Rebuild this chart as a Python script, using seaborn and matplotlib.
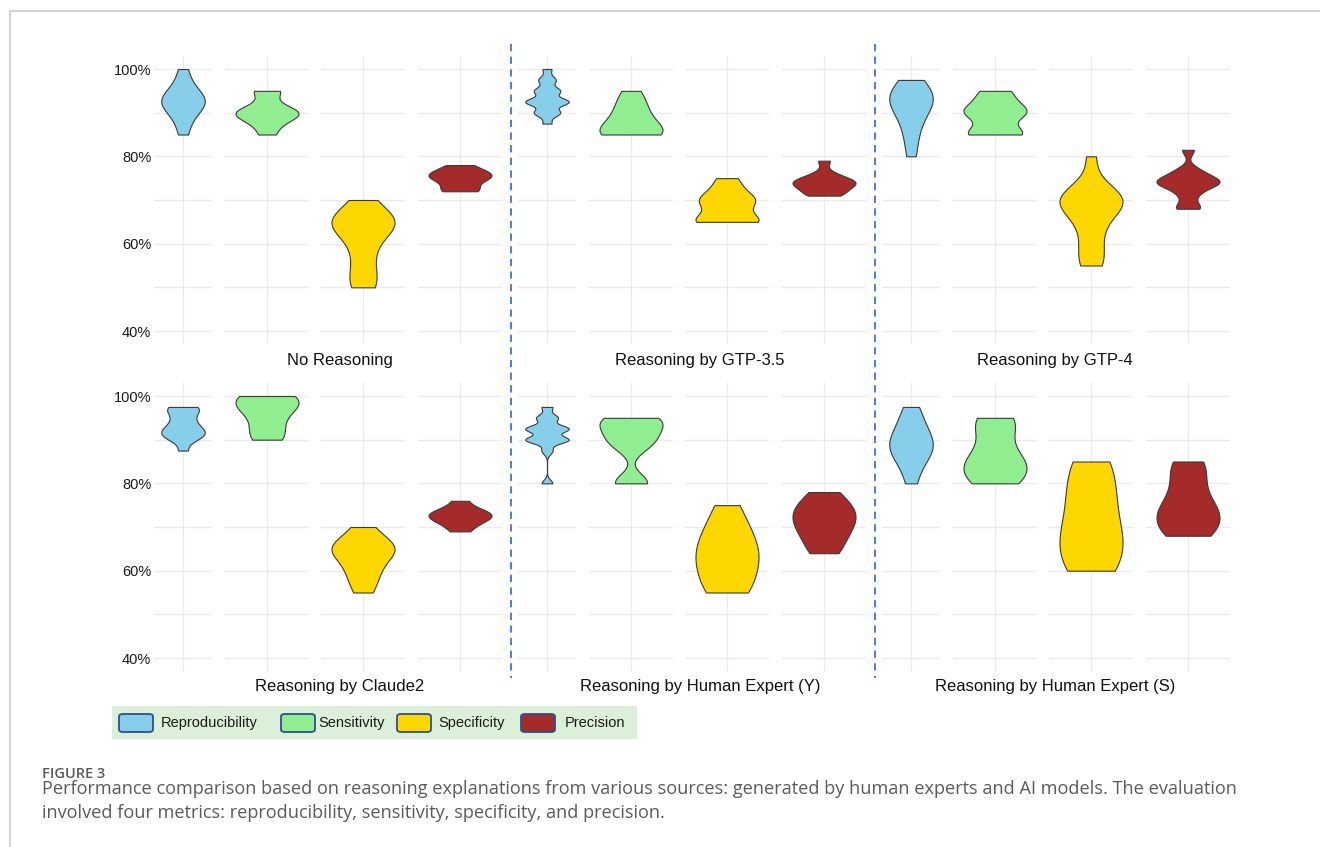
import numpy as np
import pandas as pd
import seaborn as sns
import matplotlib.pyplot as plt
from matplotlib.patches import FancyBboxPatch, Rectangle
from matplotlib.lines import Line2D

sources = ["No Reasoning", "Reasoning by GTP-3.5", "Reasoning by GTP-4",
           "Reasoning by Claude2", "Reasoning by Human Expert (Y)",
           "Reasoning by Human Expert (S)"]
metrics = ["Reproducibility", "Sensitivity", "Specificity", "Precision"]
colors = ["#87CEEB", "#90EE90", "#FFD700", "#A52A2A"]

# scores in %, one list per metric (Reproducibility, Sensitivity, Specificity, Precision)
no_reasoning = [
    [85, 88, 90, 91, 92, 92.5, 93, 93, 94, 95, 97, 100],
    [85, 87.5, 89, 90, 90, 90, 91, 95, 95],
    [50, 51, 54, 57, 60, 62, 63.5, 64.5, 65, 65.5, 66, 68, 70],
    [72, 72, 73, 74.5, 75, 75.5, 76, 76, 77, 78],
]
gtp35 = [
    [87.5, 90, 90, 90, 92.5, 92.5, 92.5, 92.5, 92.5, 95, 95, 95, 97.5, 97.5, 100],
    [85, 85, 85, 85, 86, 87.5, 88, 90, 91, 93, 95],
    [65, 65, 65, 65, 67, 69, 70, 70, 71, 73, 75],
    [71, 71.5, 72, 73, 73.5, 74, 74, 74.5, 75, 76, 79],
]
gtp4 = [
    [80, 84, 87, 89, 91, 92, 93, 93, 94, 95, 96, 97.5],
    [85, 85, 85, 85, 86.5, 89, 90, 90, 90, 91, 92, 93, 95, 95],
    [55, 56, 59, 62, 65, 67, 68.5, 69.5, 70, 70, 70.5, 71.5, 73, 80],
    [68, 68.5, 71, 72.5, 73.5, 74, 74, 74.5, 75, 76, 77, 81.5],
]
claude2 = [
    [87.5, 90, 90.5, 91, 91.5, 92, 92.5, 93, 94, 95, 96, 97, 97.5, 97.5],
    [90, 91, 93, 96, 97.5, 98.5, 99, 100, 100],
    [55, 58, 60, 62, 64, 65, 65, 66, 67, 70],
    [69, 70.5, 71.5, 72, 72.5, 73, 73.5, 74, 76],
]
human_y = [
    [80, 87.5, 90, 90, 90, 90, 92.5, 92.5, 92.5, 92.5, 95, 95, 97.5],
    [80, 80, 80.5, 88, 89, 90, 91, 92, 93, 94, 95, 95, 95],
    [55, 55, 55.5, 57, 59, 61, 62, 63, 64, 65, 66, 67, 69, 71, 73, 75],
    [64, 65, 67, 69, 70, 71, 72, 73, 74, 75, 76, 78],
]
human_s = [
    [80, 84, 86, 87.5, 88, 89, 90, 91, 93, 95, 97.5],
    [80, 80, 81, 82, 83, 84, 85, 85, 86, 88, 91, 93, 94.5, 95, 95],
    [60, 60, 60.5, 62, 64, 65, 66, 67, 68, 70, 72, 74, 76, 78, 80, 82, 84, 85, 85],
    [68, 68, 68.5, 70, 71, 72, 72.5, 73, 74, 75, 76, 78, 80, 82, 84, 85, 85],
]
all_scores = [no_reasoning, gtp35, gtp4, claude2, human_y, human_s]

# kernel bandwidth multiplier per violin
bw = [
    [1.0, 0.8, 0.75, 0.9],
    [0.45, 1.0, 0.8, 0.8],
    [1.0, 0.8, 0.8, 0.55],
    [0.65, 1.0, 0.9, 0.9],
    [0.33, 0.6, 1.2, 1.1],
    [1.0, 1.0, 1.2, 1.0],
]

rows = []
for src, scores in zip(sources, all_scores):
    for m, vals in zip(metrics, scores):
        for v in vals:
            rows.append({"source": src, "metric": m, "score": v})
df = pd.DataFrame(rows)

W, H = 1320, 847
fig = plt.figure(figsize=(13.2, 8.47), dpi=100)
plt.rcParams["font.family"] = ["Liberation Sans", "DejaVu Sans"]


def fx(x):
    return x / W


def fy(y):
    return 1 - y / H


sub_off = [0, 71, 167, 264]
sub_w = [58, 84, 84, 84]
row_top = [55.9, 382.9]
row_h = 288.2
title_x = [340, 700, 1055]
title_y = [360, 686]

for i, src in enumerate(sources):
    r, c = divmod(i, 3)
    left0 = 154 + 364 * c
    for k, m in enumerate(metrics):
        ax = fig.add_axes([fx(left0 + sub_off[k]), fy(row_top[r] + row_h),
                           sub_w[k] / W, row_h / H])
        sub = df[(df.source == src) & (df.metric == m)]
        sns.violinplot(data=sub, x="metric", y="score", color=colors[k],
                       cut=0, inner=None, density_norm="width", width=0.9,
                       bw_adjust=bw[i][k], linewidth=0.8, linecolor="#3a3a3a",
                       saturation=1, ax=ax)
        ax.set_xlim(-0.6, 0.6)
        ax.set_ylim(37, 103)
        ax.set_yticks(range(40, 101, 10))
        if c == 0 and k == 0:
            ax.set_yticklabels(["40%", "", "60%", "", "80%", "", "100%"],
                               fontsize=10.5, color="#1a1a1a")
        else:
            ax.set_yticklabels([])
        ax.set_xticks([0])
        ax.set_xticklabels([])
        ax.tick_params(length=0, pad=2)
        ax.grid(True, color="#ebebeb", lw=1)
        ax.set_axisbelow(True)
        ax.set_xlabel("")
        ax.set_ylabel("")
        for s in ax.spines.values():
            s.set_visible(False)
    fig.text(fx(title_x[c]), fy(title_y[r]), src, ha="center", va="center",
             fontsize=12, color="#111111")

# dashed separators between columns
for x in [511, 875]:
    fig.add_artist(Line2D([fx(x), fx(x)], [fy(44), fy(678)], color="#3b73d9",
                          lw=1.3, ls=(0, (4, 3))))

# frame lines
fig.add_artist(Line2D([fx(10), 1], [fy(11), fy(11)], color="#d4d4d4", lw=1.5))
fig.add_artist(Line2D([fx(10), fx(10)], [fy(11), 0], color="#d4d4d4", lw=1.5))

# legend
fig.add_artist(Rectangle((fx(112), fy(739)), fx(637) - fx(112), (739 - 706) / H,
                         facecolor="#dcefd8", edgecolor="none"))
key_x = [119, 281, 397, 521]
label_x = [161, 318, 438, 565]
for kx, lx, m, col in zip(key_x, label_x, metrics, colors):
    fig.add_artist(FancyBboxPatch((fx(kx), fy(732)), 34 / W, 18 / H,
                                  boxstyle="round,pad=0,rounding_size=0.003",
                                  facecolor=col, edgecolor="#2c4f8c", lw=1.3))
    fig.text(fx(lx), fy(723), m, ha="left", va="center", fontsize=10.5,
             color="#1a1a1a")

# caption
cap_font = ["Open Sans", "DejaVu Sans"]
fig.text(fx(42), fy(778), "FIGURE 3", ha="left", va="baseline", fontsize=10.5,
         fontweight="semibold", color="#5a5a5a", family=cap_font)
fig.text(fx(42), fy(794),
         "Performance comparison based on reasoning explanations from various sources: "
         "generated by human experts and AI models. The evaluation",
         ha="left", va="baseline", fontsize=13.1, color="#5a5a5a", family=cap_font)
fig.text(fx(42), fy(818),
         "involved four metrics: reproducibility, sensitivity, specificity, and precision.",
         ha="left", va="baseline", fontsize=13.1, color="#5a5a5a", family=cap_font)

fig.savefig("out.png", dpi=100)
